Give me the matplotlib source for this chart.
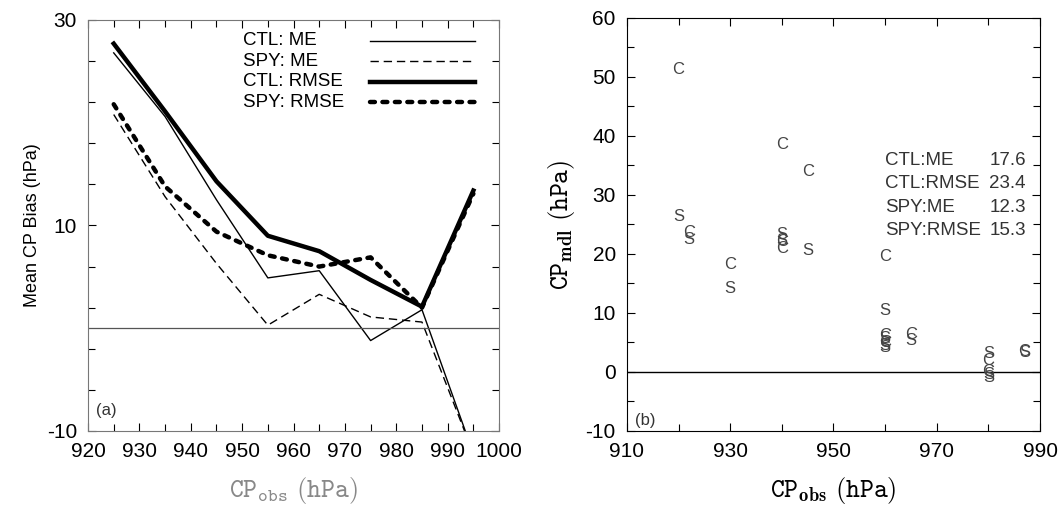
import numpy as np
import matplotlib
matplotlib.use('Agg')
import matplotlib.pyplot as plt
from matplotlib.ticker import FixedLocator, MultipleLocator

plt.rcParams['font.family'] = ['Liberation Sans', 'DejaVu Sans']
plt.rcParams['mathtext.fontset'] = 'cm'
plt.rcParams['axes.unicode_minus'] = False

# ---- panel (a): mean bias / rmse per 10 hPa bin ----
cp_bins = [925, 935, 945, 955, 965, 975, 985, 995]
ctl_me = [26.8, 20.6, 12.5, 4.9, 5.6, -1.2, 1.8, -12.2]
spy_me = [20.8, 12.8, 6.3, 0.3, 3.3, 1.1, 0.6, -12.2]
ctl_rmse = [27.7, 21.1, 14.3, 9.0, 7.5, 4.7, 2.1, 13.4]
spy_rmse = [21.8, 13.8, 9.4, 7.1, 6.0, 6.9, 2.0, 13.1]
series_labels = ['CTL: ME', 'SPY: ME', 'CTL: RMSE', 'SPY: RMSE']

# ---- panel (b): individual cases ----
ctl_obs = [920, 922, 930, 940, 940, 940, 945, 960, 960, 960, 965, 980, 980, 987]
ctl_mdl = [51.2, 23.6, 18.3, 38.5, 22.1, 21.0, 34.0, 19.6, 6.2, 5.0, 6.3, 2.0, 0.0, 3.4]
spy_obs = [920, 922, 930, 940, 940, 945, 960, 960, 960, 960, 965, 980, 980, 980, 987]
spy_mdl = [26.3, 22.4, 14.2, 23.3, 22.3, 20.6, 10.5, 5.6, 4.5, 4.1, 5.4, 3.2, -0.4, -0.9, 3.3]
stat_names = ['CTL:ME', 'CTL:RMSE', 'SPY:ME', 'SPY:RMSE']
stat_vals = ['17.6', '23.4', '12.3', '15.3']

fig = plt.figure(figsize=(10.58, 5.14), dpi=100)
ax1 = fig.add_axes([0.0832, 0.1615, 0.3885, 0.7996])
ax2 = fig.add_axes([0.5926, 0.1615, 0.3904, 0.8035])

# panel a
styles = [
    dict(lw=1.0, ls='-'),
    dict(lw=1.0, ls=(0, (6, 3.5))),
    dict(lw=3.2, ls='-'),
    dict(lw=3.2, ls=(0, (1.1, 1.7)), dash_capstyle='round'),
]
for vals, st in zip([ctl_me, spy_me, ctl_rmse, spy_rmse], styles):
    ax1.plot(cp_bins, vals, color='k', **st)
ax1.axhline(0, color='#555555', lw=0.9)
ax1.set_xlim(920, 1000)
ax1.set_ylim(-10, 30)
ax1.xaxis.set_major_locator(MultipleLocator(10))
ax1.xaxis.set_minor_locator(MultipleLocator(5))
ax1.yaxis.set_major_locator(FixedLocator([-10, 10, 30]))
ax1.yaxis.set_minor_locator(FixedLocator(np.arange(-10, 31, 4)))

# legend drawn by hand so the labels stay left-aligned
for i, (lab, st) in enumerate(zip(series_labels, styles)):
    yy = 0.949 - i * 0.0497
    ax1.text(0.377, yy, lab, transform=ax1.transAxes, fontsize=13.5,
             va='center', ha='left')
    ax1.plot([0.686, 0.942], [yy, yy], transform=ax1.transAxes, color='k', **st)
ax1.text(0.02, 0.04, '(a)', transform=ax1.transAxes, fontsize=12, color='#333333')
ax1.set_ylabel('Mean CP Bias (hPa)', fontsize=13, labelpad=4)
ax1.set_xlabel(r'$\mathtt{CP_{obs}\ (hPa)}$', fontsize=19, color='#888888', labelpad=10)
for sp in ax1.spines.values():
    sp.set_color('#777777')

# panel b: cases drawn as letters (C = CTL, S = SPY)
for x, y in zip(ctl_obs, ctl_mdl):
    ax2.text(x, y, 'C', ha='center', va='center', fontsize=12, color='#444444')
for x, y in zip(spy_obs, spy_mdl):
    ax2.text(x, y, 'S', ha='center', va='center', fontsize=12, color='#444444')
ax2.axhline(0, color='k', lw=1.0)
ax2.set_xlim(910, 990)
ax2.set_ylim(-10, 60)
ax2.xaxis.set_major_locator(FixedLocator(np.arange(910, 991, 20)))
ax2.xaxis.set_minor_locator(MultipleLocator(10))
ax2.yaxis.set_major_locator(MultipleLocator(10))
ax2.yaxis.set_minor_locator(MultipleLocator(5))
for i, (nm, v) in enumerate(zip(stat_names, stat_vals)):
    yy = 0.656 - i * 0.057
    ax2.text(0.625, yy, nm, transform=ax2.transAxes, fontsize=13.5,
             va='center', ha='left', color='#333333')
    ax2.text(0.966, yy, v, transform=ax2.transAxes, fontsize=13.5,
             va='center', ha='right', color='#333333')
ax2.text(0.02, 0.015, '(b)', transform=ax2.transAxes, fontsize=12, color='#333333')
ax2.set_ylabel(r'$\mathtt{CP}_{\mathbf{mdl}}\ \mathtt{(hPa)}$', fontsize=19, labelpad=6)
ax2.set_xlabel(r'$\mathtt{CP}_{\mathbf{obs}}\ \mathtt{(hPa)}$', fontsize=19, labelpad=10)

for ax in (ax1, ax2):
    ax.tick_params(which='both', direction='in', top=True, right=True,
                   length=5, width=0.8, labelsize=15, pad=8)
    ax.tick_params(which='major', length=6)

fig.savefig('out.png', dpi=100)
